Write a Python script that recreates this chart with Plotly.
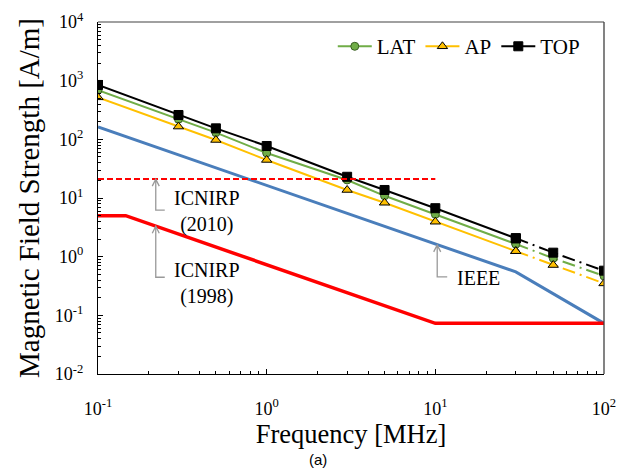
import plotly.graph_objects as go

# ---- data ----
freq = [0.1, 0.3, 0.5, 1, 3, 5, 10, 30, 50, 100]
lat = [690, 220, 130, 58.5, 20.3, 10.9, 5.27, 1.64, 0.94, 0.469]
ap = [520, 165, 97.5, 44.5, 13.7, 8.3, 3.94, 1.24, 0.72, 0.35]
top = [845, 260, 154, 77, 23, 13.7, 6.7, 2.06, 1.17, 0.577]

ieee_f = [0.1, 30, 100]
ieee_h = [163, 0.55, 0.073]
icnirp98_f = [0.1, 0.146, 10, 100]
icnirp98_h = [5, 5, 0.073, 0.073]
icnirp10_f = [0.1, 10]
icnirp10_h = [21, 21]

x_tickvals = [0.1, 1, 10, 100]
x_ticktext = ["10<sup>-1</sup>", "10<sup>0</sup>", "10<sup>1</sup>", "10<sup>2</sup>"]
y_tickvals = [0.01, 0.1, 1, 10, 100, 1000, 10000]
y_ticktext = ["10<sup>-2</sup>", "10<sup>-1</sup>", "10<sup>0</sup>", "10<sup>1</sup>",
              "10<sup>2</sup>", "10<sup>3</sup>", "10<sup>4</sup>"]

SERIF = "Liberation Serif"
split = 7  # index of 30 MHz: solid up to here, dash-dot after

fig = go.Figure()

# limit lines
fig.add_trace(go.Scatter(x=ieee_f, y=ieee_h, mode="lines", showlegend=False,
                         line=dict(color="#4A7EBB", width=3)))
fig.add_trace(go.Scatter(x=icnirp98_f, y=icnirp98_h, mode="lines", showlegend=False,
                         line=dict(color="#FF0000", width=3.5)))

series = [
    ("LAT", lat, "#70AD47", dict(symbol="circle", size=8, color="#70AD47",
                                 line=dict(color="#3A5F24", width=1))),
    ("AP", ap, "#FFC000", dict(symbol="triangle-up", size=9, color="#FFC000",
                               line=dict(color="#000000", width=1))),
    ("TOP", top, "#000000", dict(symbol="square", size=9, color="#000000",
                                 line=dict(color="#000000", width=1))),
]
for name, vals, col, mk in series:
    fig.add_trace(go.Scatter(x=freq[:split + 1], y=vals[:split + 1], mode="lines+markers",
                             name=name, line=dict(color=col, width=2), marker=mk))
    fig.add_trace(go.Scatter(x=freq[split:], y=vals[split:], mode="lines+markers",
                             showlegend=False,
                             line=dict(color=col, width=2, dash="13px,5px,2px,5px"),
                             marker=mk))

fig.add_trace(go.Scatter(x=icnirp10_f, y=icnirp10_h, mode="lines", showlegend=False,
                         line=dict(color="#FF0000", width=2, dash="6px,3px")))

# annotation brackets (gray arrows)
def bracket(xa, ya, length, foot=9):
    return dict(type="path", xref="x", yref="y", xsizemode="pixel", ysizemode="pixel",
                xanchor=xa, yanchor=ya,
                path=f"M -3.5,-7 L 0,0 L 3.5,-7 M 0,0 L 0,-{length} L {foot},-{length}",
                line=dict(color="#999999", width=1.3))

shapes = [
    bracket(0.22, 21, 31),
    bracket(0.22, 3.3, 51),
    bracket(10.26, 1.59, 32, 10),
    # frame top (gray) and right (dark)
    dict(type="line", xref="paper", yref="paper", x0=0, x1=1, y0=1, y1=1,
         line=dict(color="#808080", width=1.3)),
    dict(type="line", xref="paper", yref="paper", x0=1, x1=1, y0=0, y1=1,
         line=dict(color="#404040", width=1.3)),
]

def note(text, x, y, size=20, family=SERIF):
    return dict(text=text, xref="paper", yref="paper", x=x, y=y,
                xanchor="center", yanchor="middle", showarrow=False,
                font=dict(family=family, size=size, color="black"))

annotations = [
    note("ICNIRP<br>(2010)", 0.2156, 0.4616),
    note("ICNIRP<br>(1998)", 0.2156, 0.2585),
    note("IEEE", 0.751, 0.2736),
    note("(a)", 0.435, -0.2415, size=15, family="Liberation Sans"),
]

fig.update_layout(
    width=625, height=460,
    margin=dict(l=90, r=29, t=14, b=94, autoexpand=False),
    paper_bgcolor="white", plot_bgcolor="white",
    font=dict(family=SERIF, color="black"),
    shapes=shapes, annotations=annotations,
    legend=dict(orientation="h", x=0.962, xanchor="right", y=0.93, yanchor="middle",
                font=dict(family=SERIF, size=21, color="black"),
                bgcolor="rgba(0,0,0,0)", itemwidth=34, tracegroupgap=0),
    xaxis=dict(type="log", range=[-1, 2], tickvals=x_tickvals, ticktext=x_ticktext,
               tickfont=dict(family=SERIF, size=18, color="black"),
               ticks="inside", ticklen=5, tickcolor="black",
               minor=dict(ticks="inside", ticklen=3, tickcolor="black", dtick="D1",
                          showgrid=False),
               showline=True, linecolor="black", linewidth=1.3, showgrid=False,
               zeroline=False, ticklabelstandoff=18, automargin=False,
               title=dict(text="Frequency [MHz]", font=dict(family=SERIF, size=26.5,
                                                            color="black"), standoff=2)),
    yaxis=dict(type="log", range=[-2, 4], tickvals=y_tickvals, ticktext=y_ticktext,
               tickfont=dict(family=SERIF, size=18, color="black"),
               ticks="inside", ticklen=5, tickcolor="black",
               minor=dict(ticks="inside", ticklen=3, tickcolor="black", dtick="D1",
                          showgrid=False),
               showline=True, linecolor="black", linewidth=1.3, showgrid=False,
               zeroline=False, ticklabelstandoff=10, automargin=False,
               title=dict(text="Magnetic Field Strength [A/m]",
                          font=dict(family=SERIF, size=29, color="black"), standoff=6)),
)

fig.write_html("out.html")
